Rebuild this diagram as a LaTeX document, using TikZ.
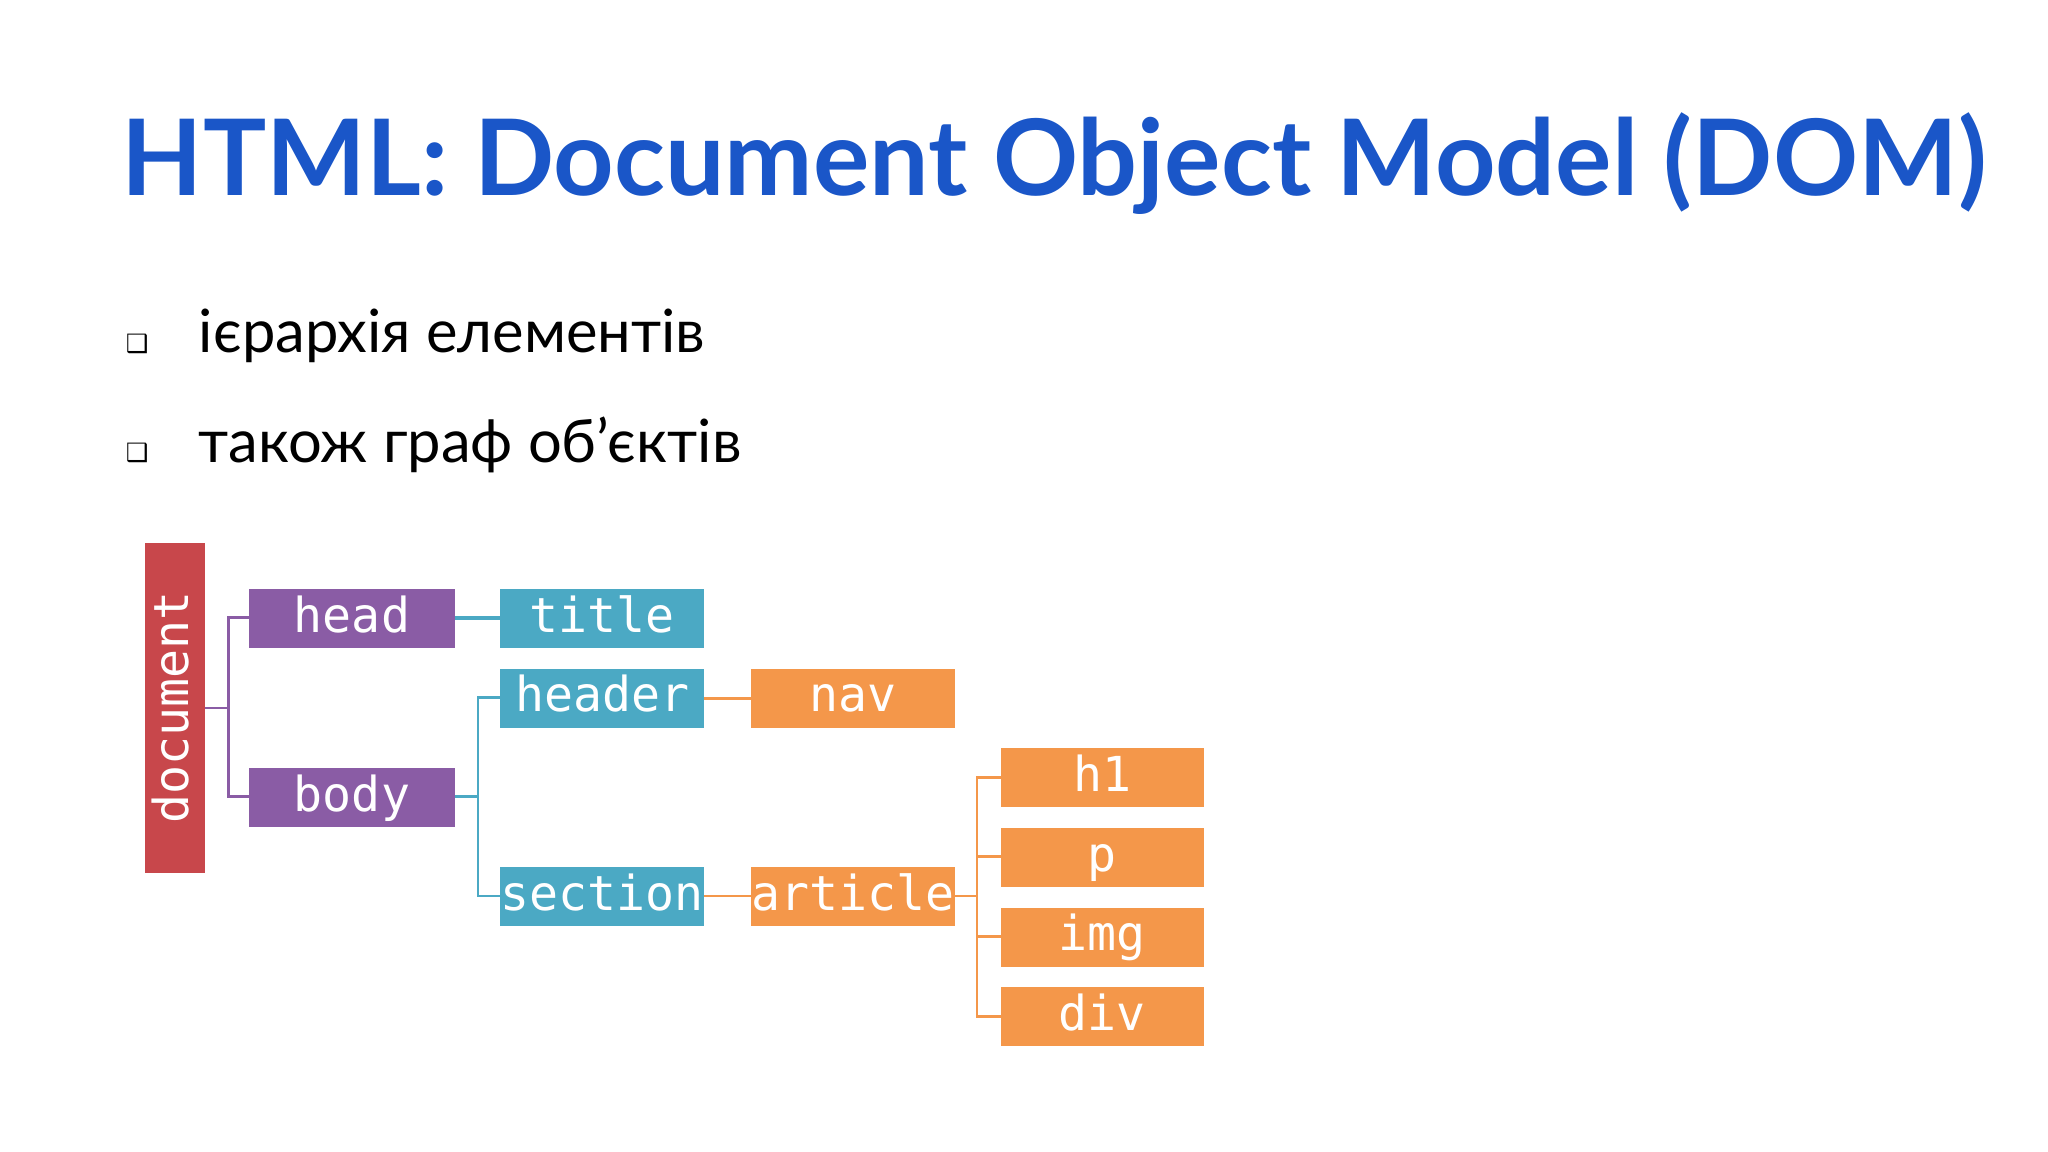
\documentclass[tikz,border=0pt]{standalone}
\usepackage{fontspec}
\setmainfont{Lato}
\newfontfamily\boxfont{DejaVu Sans Mono}
\newfontfamily\symfont{DejaVu Sans}
\definecolor{tblue}{HTML}{1A56C8}
\definecolor{cred}{HTML}{C8474B}
\definecolor{cpur}{HTML}{8A5CA5}
\definecolor{cteal}{HTML}{4BA9C4}
\definecolor{corg}{HTML}{F4974A}
\begin{document}
\begin{tikzpicture}[x=0.02cm,y=-0.02cm,
  bx/.style={draw=none,text=white,font=\boxfont\fontsize{21}{21}\selectfont,inner sep=0pt,anchor=north west},
  ln/.style={line width=1.2pt}]
\useasboundingbox (0,0) rectangle (1568,882);
\fill[white] (0,0) rectangle (1568,882);
\node[anchor=west,text=tblue,font=\bfseries\fontsize{46}{46}\selectfont,inner sep=0pt] (t) at (93,125) {HTML: Document Object Model (DOM)};
\node[anchor=center,font=\symfont\fontsize{11}{11}\selectfont,inner sep=0pt] (b1) at (105,263) {❑};
\node[anchor=center,font=\symfont\fontsize{11}{11}\selectfont,inner sep=0pt] (b2) at (105,347) {❑};
\node[anchor=west,font=\fontsize{26}{26}\selectfont,inner sep=0pt] (l1) at (152,257) {ієрархія елементів};
\node[anchor=west,font=\fontsize{26}{26}\selectfont,inner sep=0pt] (l2) at (152,341) {також граф об’єктів};
% boxes
\newcommand{\bxx}[6]{\fill[#6] (#2,#3) rectangle (#4,#5); \node[bx,anchor=center,text height=16pt,text depth=4pt] (#1) at ({(#2+#4)/2},{(#3+#5)/2}) {#1};}
\fill[cred] (111,416) rectangle (157,668);
\node[bx,anchor=center,rotate=90,text height=16pt,text depth=4pt] (document) at (134,542) {document};
\bxx{head}{191}{451}{348}{496}{cpur}
\bxx{body}{191}{588}{348}{633}{cpur}
\bxx{title}{383}{451}{539}{496}{cteal}
\bxx{header}{383}{512}{539}{557}{cteal}
\bxx{section}{383}{664}{539}{709}{cteal}
\bxx{nav}{575}{512}{731}{557}{corg}
\bxx{article}{575}{664}{731}{709}{corg}
\bxx{h1}{766}{573}{922}{618}{corg}
\bxx{p}{766}{634}{922}{679}{corg}
\bxx{img}{766}{695}{922}{740}{corg}
\bxx{div}{766}{756}{922}{801}{corg}
% connectors
\coordinate (c1) at (175,542);
\coordinate (c2) at (366,610);
\coordinate (c3) at (748,686);
\draw[ln,cpur] (157,542) -- (c1);
\draw[ln,cpur] (191,473) -| (c1) |- (191,610);
\draw[ln,cteal] (348,610) -- (c2);
\draw[ln,cteal] (383,534) -| (c2) |- (383,686);
\draw[ln,cteal] (348,473) ++(35,0) -- +(-35,0);
\draw[ln,cteal] (title.west) ++(0,0) -- (head.east -| 348,473) ;
\draw[ln,corg] (header.east -| 539,534) -- (nav.west -| 575,534);
\draw[ln,corg] (539,686) -- (575,686);
\draw[ln,corg] (731,686) -- (c3);
\draw[ln,corg] (766,595) -| (748,778) -- (766,778);
\draw[ln,corg] (748,656) -- (766,656);
\draw[ln,corg] (748,717) -- (766,717);
\end{tikzpicture}
\end{document}
